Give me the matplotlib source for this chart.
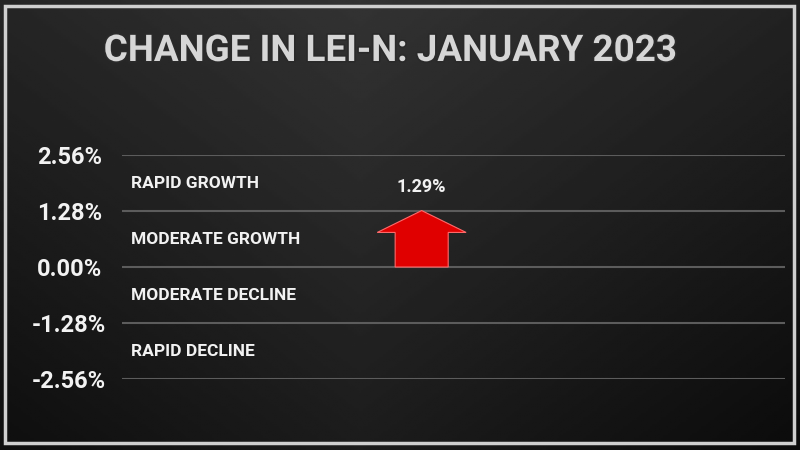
import matplotlib
matplotlib.use("Agg")
import matplotlib.pyplot as plt
import matplotlib.patheffects as pe
import numpy as np
from matplotlib.patches import Rectangle

# data
title = "CHANGE IN LEI-N: JANUARY 2023"
levels = [2.56, 1.28, 0.00, -1.28, -2.56]
level_labels = ["2.56%", "1.28%", "0.00%", "-1.28%", "-2.56%"]
zones = ["RAPID GROWTH", "MODERATE GROWTH", "MODERATE DECLINE", "RAPID DECLINE"]
change_value = 1.29
change_label = "1.29%"

plt.rcParams["font.family"] = ["Roboto", "DejaVu Sans"]

fig = plt.figure(figsize=(8, 4.5), dpi=100)
fig.patch.set_facecolor("#151515")

# background gradient + frame
bg = fig.add_axes([0, 0, 1, 1])
bg.set_axis_off()
yy, xx = np.mgrid[0:1:200j, 0:1:360j]
shade = 0.20 - 0.09 * yy - 0.06 * np.abs(xx - 0.45) * 2
bg.imshow(np.clip(shade, 0, 1), cmap="gray", vmin=0, vmax=1, extent=[0, 1, 0, 1],
          aspect="auto", origin="upper", zorder=0)
bg.set_xlim(0, 1)
bg.set_ylim(0, 1)
bg.add_patch(Rectangle((5 / 800, 7 / 450), 789 / 800, 437 / 450, fill=False,
                       ec="#cfcfcf", lw=2.5, zorder=2))

bg.text(0.4875, 1 - 51 / 450, title, ha="center", va="center", fontsize=26.5,
        fontweight="bold", color="#d6d6d6", zorder=3,
        path_effects=[pe.withStroke(linewidth=2.5, foreground="#2a2a2a")])

# main axes
ax = fig.add_axes([122 / 800, 1 - 379 / 450, 663 / 800, 224 / 450])
ax.patch.set_alpha(0)
ax.set_ylim(-2.56, 2.56)
ax.set_xlim(0, 10)
for s in ax.spines.values():
    s.set_visible(False)
ax.set_xticks([])
ax.set_yticks(levels)
ax.set_yticklabels(level_labels)
ax.tick_params(axis="y", length=0, pad=38, labelsize=17, labelcolor="#f2f2f2")
for t in ax.get_yticklabels():
    t.set_horizontalalignment("center")
    t.set_fontweight("bold")
ax.grid(axis="y", color="#5c5c5c", lw=1.5)
ax.set_axisbelow(True)

mids = [(levels[i] + levels[i + 1]) / 2 for i in range(len(zones))]
for name, ym in zip(zones, mids):
    ax.text(0.13, ym, name, ha="left", va="center", fontsize=12.5, fontweight="bold",
            color="#f2f2f2")

# arrow
xa = 4.52
ax.arrow(xa, 0, 0, change_value, width=0.8, head_width=1.34, head_length=0.5,
         length_includes_head=True, fc="#e00000", ec="#ff6a6a", lw=0.8, zorder=3)
ax.text(xa, change_value + 0.55, change_label, ha="center", va="center", fontsize=13,
        fontweight="bold", color="#f2f2f2")

fig.savefig("out.png", dpi=100, facecolor=fig.get_facecolor())
